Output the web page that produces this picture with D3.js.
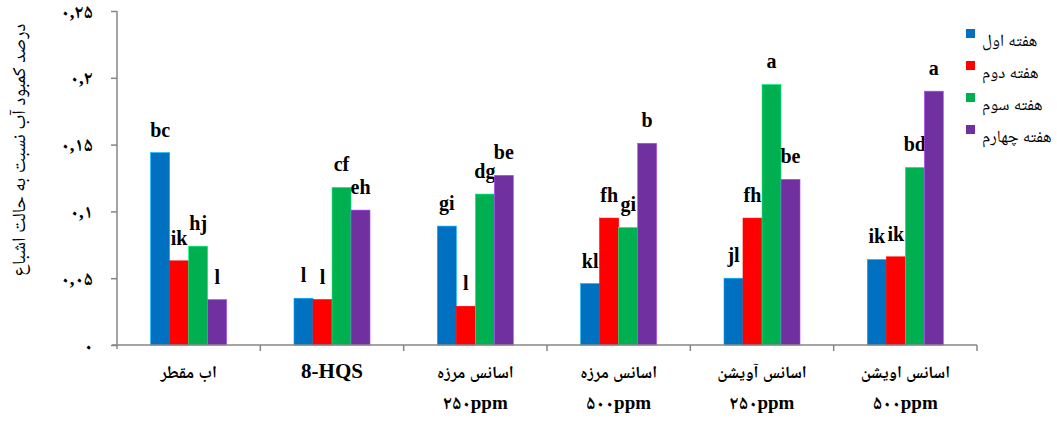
<!DOCTYPE html>
<html>
<head>
    <meta charset="UTF-8">
    <style>
        body { margin: 0; background: #fff; }
        svg { display: block; }
        text { font-family: "Liberation Serif", "Times New Roman", "Noto Naskh Arabic", "Noto Sans Arabic", "DejaVu Sans", serif; }
    </style>
</head>
<body>
    <svg></svg>
    <script src="https://d3js.org/d3.v7.min.js"></script>
    <script>

        // chart data
        let categories = ["اب مقطر", "8-HQS", "اسانس مرزه", "اسانس مرزه", "اسانس آویشن", "اسانس اویشن"];
        let subLabels = ["", "", "۲۵۰ppm", "۵۰۰ppm", "۲۵۰ppm", "۵۰۰ppm"];
        let series = ["هفته اول", "هفته دوم", "هفته سوم", "هفته چهارم"];
        let colors = ["#0070C0", "#FF0000", "#00B050", "#7030A0"];

        let week1 = [0.144, 0.035, 0.089, 0.046, 0.050, 0.064];
        let week2 = [0.063, 0.034, 0.029, 0.095, 0.095, 0.066];
        let week3 = [0.074, 0.118, 0.113, 0.088, 0.195, 0.133];
        let week4 = [0.034, 0.101, 0.127, 0.151, 0.124, 0.190];

        let letters1 = ["bc", "l", "gi", "kl", "jl", "ik"];
        let letters2 = ["ik", "l", "l", "fh", "fh", "ik"];
        let letters3 = ["hj", "cf", "dg", "gi", "a", "bd"];
        let letters4 = ["l", "eh", "be", "b", "be", "a"];

        let yTicks = [0, 0.05, 0.1, 0.15, 0.2, 0.25];
        let yTickLabels = ["۰", "۰,۰۵", "۰,۱", "۰,۱۵", "۰,۲", "۰,۲۵"];
        let yTitle = "درصد کمبود آب نسبت به حالت اشباع";

        let values = [week1, week2, week3, week4];
        let letters = [letters1, letters2, letters3, letters4];

        let width = 1057, height = 423;
        let plotLeft = 117, plotRight = 977, plotTop = 11, plotBottom = 345;
        let axisColor = "#868686";
        let isPersian = s => /[\u0600-\u06FF]/.test(s);

        let svg = d3.select("svg")
            .attr("width", width)
            .attr("height", height);

        let x0 = d3.scaleBand()
            .domain(d3.range(categories.length))
            .range([plotLeft, plotRight]);

        let x1 = d3.scaleBand()
            .domain(d3.range(series.length))
            .range([0, x0.bandwidth()])
            .paddingOuter(1.77);

        let y = d3.scaleLinear()
            .domain([0, 0.25])
            .range([plotBottom, plotTop]);

        // y axis
        let yAxis = svg.append("g")
            .attr("transform", `translate(${plotLeft},0)`)
            .call(d3.axisLeft(y)
                .tickValues(yTicks)
                .tickFormat((d, i) => yTickLabels[i])
                .tickSize(6)
                .tickSizeOuter(0)
                .tickPadding(18));
        yAxis.select(".domain").attr("stroke", axisColor).attr("stroke-width", 1.5)
            .attr("d", `M0,${plotTop}V${plotBottom + 4}`);
        yAxis.selectAll(".tick line").attr("stroke", axisColor).attr("stroke-width", 1.5);
        yAxis.selectAll(".tick text")
            .attr("fill", "#000")
            .style("font-size", "19px")
            .style("font-weight", "bold")
            .style("direction", "ltr");

        // bars
        let groups = svg.append("g")
            .selectAll("g")
            .data(series)
            .join("g")
            .attr("fill", (d, i) => colors[i]);

        groups.selectAll("rect")
            .data((d, i) => values[i].map((v, j) => ({ s: i, c: j, v: v })))
            .join("rect")
            .attr("x", d => x0(d.c) + x1(d.s))
            .attr("y", d => y(d.v))
            .attr("width", x1.bandwidth())
            .attr("height", d => plotBottom - y(d.v))
            .attr("stroke", d => d3.color(colors[d.s]).brighter(1.3))
            .attr("stroke-width", 0.6);

        // significance letters
        groups.selectAll("text")
            .data((d, i) => letters[i].map((t, j) => ({ s: i, c: j, t: t, v: values[i][j] })))
            .join("text")
            .attr("x", d => x0(d.c) + x1(d.s) + x1.bandwidth() / 2)
            .attr("y", d => y(d.v) - 16)
            .attr("text-anchor", "middle")
            .attr("fill", "#000")
            .style("font-size", "20px")
            .style("font-weight", "bold")
            .text(d => d.t);

        // x axis
        let xAxis = svg.append("g");
        xAxis.append("line")
            .attr("x1", plotLeft - 5).attr("x2", plotRight)
            .attr("y1", plotBottom).attr("y2", plotBottom)
            .attr("stroke", axisColor).attr("stroke-width", 1.5);
        xAxis.selectAll(".xtick")
            .data(d3.range(1, categories.length + 1))
            .join("line")
            .attr("class", "xtick")
            .attr("x1", d => d < categories.length ? x0(d) : x0.range()[1])
            .attr("x2", d => d < categories.length ? x0(d) : x0.range()[1])
            .attr("y1", plotBottom).attr("y2", plotBottom + 6)
            .attr("stroke", axisColor).attr("stroke-width", 1.5);

        xAxis.selectAll(".xlab")
            .data(categories)
            .join("text")
            .attr("class", "xlab")
            .attr("x", (d, i) => x0(i) + x0.bandwidth() / 2)
            .attr("y", 378)
            .attr("text-anchor", "middle")
            .style("font-size", d => isPersian(d) ? "17px" : "21px")
            .style("font-weight", "bold")
            .text(d => d);

        xAxis.selectAll(".xsub")
            .data(subLabels)
            .join("text")
            .attr("class", "xsub")
            .attr("x", (d, i) => x0(i) + x0.bandwidth() / 2)
            .attr("y", 409)
            .attr("text-anchor", "middle")
            .style("font-size", "19px")
            .style("font-weight", "bold")
            .style("direction", "ltr")
            .text(d => d);

        // y title
        svg.append("text")
            .attr("transform", "translate(25,150) rotate(-90)")
            .attr("text-anchor", "middle")
            .style("font-size", "19px")
            .text(yTitle);

        // legend
        let legend = svg.append("g")
            .selectAll("g")
            .data(series)
            .join("g")
            .attr("transform", (d, i) => `translate(966,${29 + i * 32})`);

        legend.append("rect")
            .attr("width", 9)
            .attr("height", 9)
            .attr("fill", (d, i) => colors[i]);

        legend.append("text")
            .attr("x", 16)
            .attr("y", 17)
            .style("font-size", "17px")
            .text(d => d);

    </script>
</body>
</html>
